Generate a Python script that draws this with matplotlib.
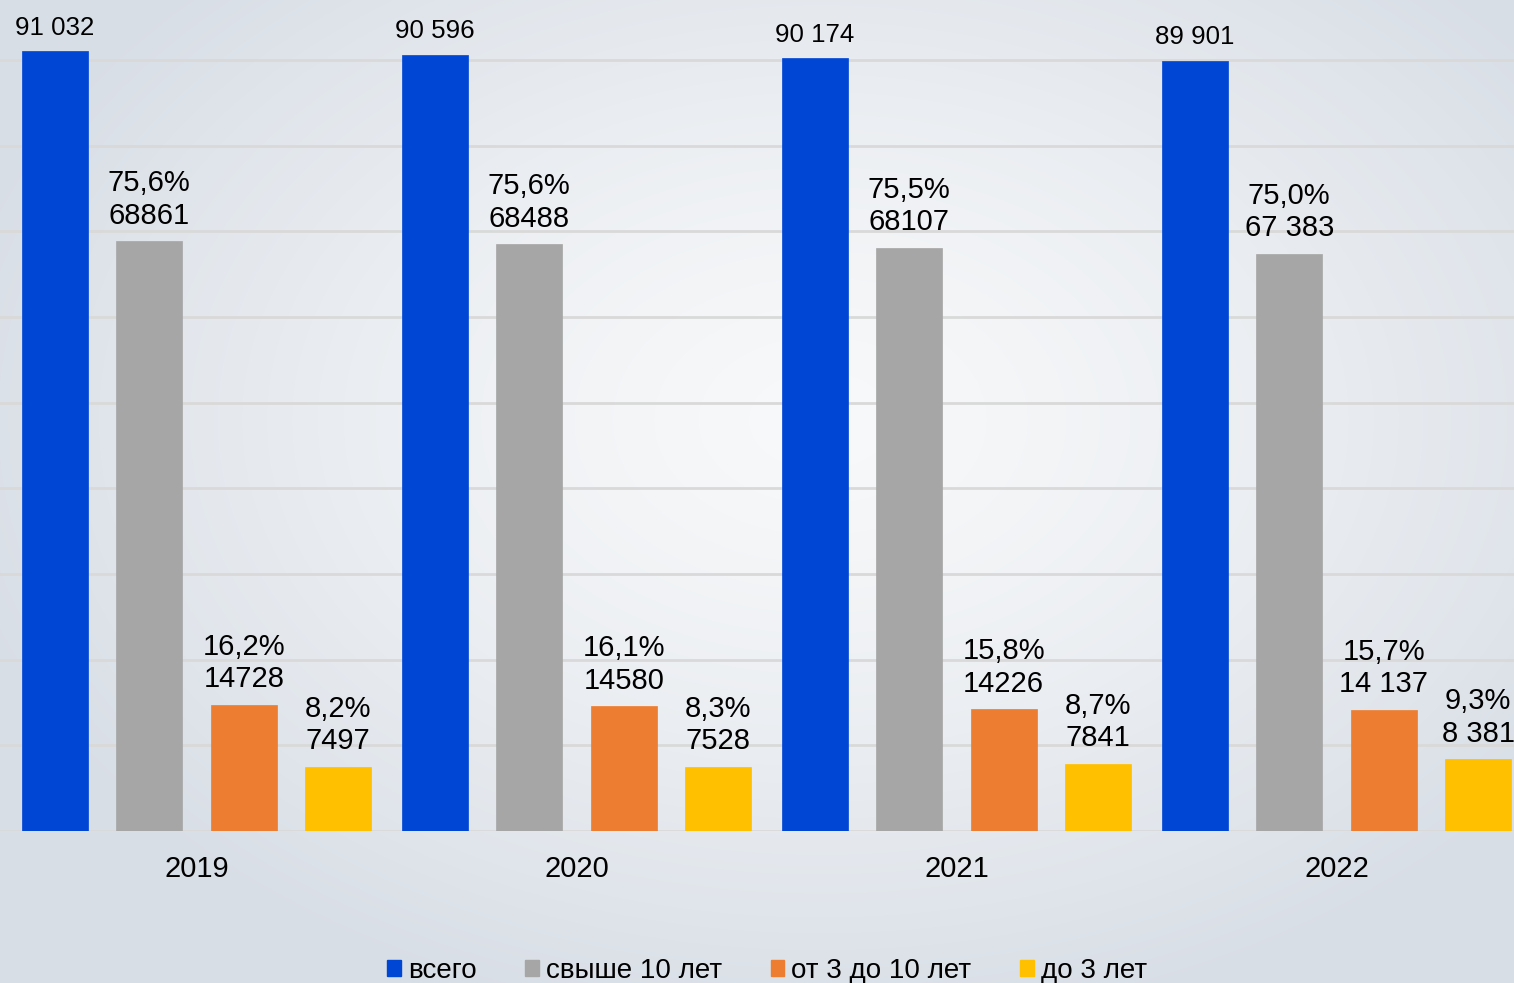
import numpy as np
import matplotlib.pyplot as plt
from matplotlib.patches import Patch

plt.rcParams['font.family'] = ['Liberation Sans', 'DejaVu Sans']

years = ['2019', '2020', '2021', '2022']
series = ['всего', 'свыше 10 лет', 'от 3 до 10 лет', 'до 3 лет']
colors = ['#0046d5', '#a6a6a6', '#ed7d31', '#ffc000']

total = [91032, 90596, 90174, 89901]
over10 = [68861, 68488, 68107, 67383]
from3to10 = [14728, 14580, 14226, 14137]
under3 = [7497, 7528, 7841, 8381]

total_lbl = ['91 032', '90 596', '90 174', '89 901']
over10_lbl = ['75,6%\n68861', '75,6%\n68488', '75,5%\n68107', '75,0%\n67 383']
from3to10_lbl = ['16,2%\n14728', '16,1%\n14580', '15,8%\n14226', '15,7%\n14 137']
under3_lbl = ['8,2%\n7497', '8,3%\n7528', '8,7%\n7841', '9,3%\n8 381']

values = [total, over10, from3to10, under3]
labels = [total_lbl, over10_lbl, from3to10_lbl, under3_lbl]
label_size = [18.6, 21, 21, 21]

fig = plt.figure(figsize=(15.14, 9.83), dpi=100)

# background gradient
bg = fig.add_axes([0, 0, 1, 1], zorder=-10)
h, w = 983, 1514
yy, xx = np.mgrid[0:h, 0:w]
d = np.sqrt(((xx - 820) / 900.0) ** 2 + ((yy - 420) / 620.0) ** 2)
d = np.clip(d, 0, 1) ** 1.3
c0 = np.array([248, 249, 250]) / 255.0
c1 = np.array([216, 222, 230]) / 255.0
img = c0[None, None, :] * (1 - d[..., None]) + c1[None, None, :] * d[..., None]
bg.imshow(img, aspect='auto', extent=[0, 1, 0, 1])
bg.axis('off')

ax = fig.add_axes([0, 1 - 831 / 983, 1, 831 / 983])
ax.patch.set_alpha(0)

x = np.arange(len(years))
step = 94.5 / 380
width = 66 / 380
for i in range(4):
    pos = x + (i - 1.5) * step
    bars = ax.bar(pos, values[i], width, color=colors[i], zorder=3,
                  edgecolor=colors[i], linewidth=0.5)
    for b, t in zip(bars, labels[i]):
        ax.annotate(t, (b.get_x() + b.get_width() / 2, b.get_height()),
                    xytext=(0, 8.3), textcoords='offset points',
                    ha='center', va='bottom', fontsize=label_size[i],
                    linespacing=1.2, zorder=4)

ax.set_xlim(-196.5 / 380, (1514 - 196.5) / 380)
ax.set_ylim(0, 831 / 8.567 * 1000)
ax.set_yticks(np.arange(0, 90001, 10000))
ax.yaxis.grid(True, color='#d9d9d9', linewidth=2, zorder=0)
ax.set_xticks(x)
ax.set_xticklabels(years, fontsize=21)
ax.tick_params(axis='x', length=0, pad=17)
ax.tick_params(axis='y', length=0, labelleft=False)
for s in ax.spines.values():
    s.set_visible(False)

handles = [Patch(facecolor=c, edgecolor=c) for c in colors]
fig.legend(handles, series, loc='lower center', ncol=4, frameon=False,
           fontsize=20, bbox_to_anchor=(0.5066, -0.026),
           handlelength=0.5, handleheight=0.5, handletextpad=0.25,
           columnspacing=1.75)

fig.savefig('out.png', dpi=100)
